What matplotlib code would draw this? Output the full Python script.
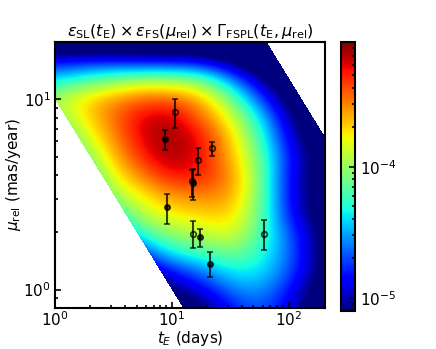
import numpy as np
import matplotlib
matplotlib.use("Agg")
from matplotlib import pyplot as plt
from matplotlib.colors import LogNorm
from matplotlib.cm import ScalarMappable

# rate map, log10 values read on a grid of log10(tE) x log10(mu_rel)
log_te_nodes = np.arange(0, 2.51, 0.25)
log_mu_nodes = np.round(np.arange(-0.1, 1.31, 0.1), 2)
log_rate = np.array([
    [-6.0, -6.0, -6.0, -5.8, -5.4, -5.2, -4.85, -4.65, -4.9, -5.3, -5.7],    # -0.1
    [-6.0, -6.0, -5.9, -5.5, -5.1, -4.9, -4.6, -4.5, -4.8, -5.2, -5.6],      # 0.0
    [-6.0, -5.9, -5.5, -5.1, -4.8, -4.6, -4.35, -4.35, -4.65, -5.1, -5.5],   # 0.1
    [-5.8, -5.5, -5.1, -4.7, -4.3, -4.2, -4.05, -4.25, -4.6, -5.1, -5.5],    # 0.2
    [-5.5, -5.1, -4.7, -4.2, -4.0, -3.9, -3.8, -4.15, -4.65, -5.1, -5.5],    # 0.3
    [-5.2, -4.8, -4.3, -3.9, -3.75, -3.7, -3.65, -4.1, -4.8, -5.2, -5.6],    # 0.4
    [-4.9, -4.5, -3.95, -3.75, -3.55, -3.5, -3.55, -4.05, -4.85, -5.2, -5.6],  # 0.5
    [-4.7, -4.3, -3.8, -3.5, -3.25, -3.3, -3.5, -4.05, -4.85, -5.2, -5.6],   # 0.6
    [-4.5, -4.1, -3.65, -3.3, -3.1, -3.25, -3.6, -4.1, -4.8, -5.2, -5.6],    # 0.7
    [-4.3, -3.9, -3.55, -3.2, -3.08, -3.25, -3.65, -4.2, -4.9, -5.3, -5.7],  # 0.8
    [-4.1, -3.75, -3.47, -3.2, -3.15, -3.45, -3.8, -4.35, -5.0, -5.4, -5.8], # 0.9
    [-3.95, -3.7, -3.55, -3.42, -3.42, -3.6, -4.05, -4.65, -5.2, -5.6, -6.0],  # 1.0
    [-4.35, -4.2, -4.05, -3.95, -3.95, -4.05, -4.5, -5.0, -5.4, -5.8, -6.0],   # 1.1
    [-4.85, -4.8, -4.8, -4.85, -4.85, -4.9, -5.1, -5.4, -5.7, -6.0, -6.0],     # 1.2
    [-5.5, -5.5, -5.5, -5.5, -5.5, -5.5, -5.6, -5.8, -6.0, -6.0, -6.0],        # 1.3
])
log_vmin, log_vmax = -5.1, -3.05

# model limits on theta_E, given as tE * mu_rel (days mas/yr)
tmu_min = 10
tmu_max = 1300

# events: tE, mu_rel, lower and upper mu_rel
te_full = [8.8, 15.2, 9.1, 17.6, 21.4]
mu_full = [6.15, 3.65, 2.7, 1.88, 1.37]
mu_full_lo = [5.4, 2.97, 2.22, 1.68, 1.17]
mu_full_hi = [6.9, 4.3, 3.16, 2.08, 1.57]

te_open = [10.6, 22.0, 16.9, 15.0, 15.1, 61.4]
mu_open = [8.6, 5.55, 4.77, 3.7, 1.97, 1.97]
mu_open_lo = [7.03, 5.06, 3.98, 3.05, 1.65, 1.62]
mu_open_hi = [10.0, 5.94, 5.53, 4.25, 2.28, 2.32]

xlim = (1, 205)
ylim = (0.8, 20)

plt.rcParams['font.size'] = 11
plt.rcParams['mathtext.fontset'] = 'dejavusans'

fig = plt.figure(figsize=(4.36, 3.49), dpi=100)
pos = [55 / 436, 41 / 349, 270 / 436, 266 / 349]

# the map lives on a linear axes in log10 units, under the log axes
ax_img = fig.add_axes(pos)
du = log_te_nodes[1] - log_te_nodes[0]
dv = log_mu_nodes[1] - log_mu_nodes[0]
ax_img.imshow(log_rate, origin='lower', cmap='jet', vmin=log_vmin, vmax=log_vmax,
              extent=[log_te_nodes[0] - du / 2, log_te_nodes[-1] + du / 2,
                      log_mu_nodes[0] - dv / 2, log_mu_nodes[-1] + dv / 2],
              interpolation='bicubic', interpolation_stage='data', aspect='auto')

lx = np.log10(xlim)
ly = np.log10(ylim)
nx, ny = 270, 266
uc = lx[0] + (np.arange(nx) + 0.5) * (lx[1] - lx[0]) / nx
vc = ly[0] + (np.arange(ny) + 0.5) * (ly[1] - ly[0]) / ny
w = uc[None, :] + vc[:, None]
outside = (w < np.log10(tmu_min)) | (w > np.log10(tmu_max))
mask = np.zeros((ny, nx, 4))
mask[outside] = (1, 1, 1, 1)
ax_img.imshow(mask, origin='lower', extent=[lx[0], lx[1], ly[0], ly[1]],
              interpolation='nearest', aspect='auto')
ax_img.set_xlim(*lx)
ax_img.set_ylim(*ly)
ax_img.axis('off')

ax = fig.add_axes(pos)
ax.set_zorder(ax_img.get_zorder() + 1)
ax.patch.set_visible(False)
ax.set_xscale('log')
ax.set_yscale('log')

ebar = dict(fmt='o', color='k', ms=4, capsize=2.5, elinewidth=1.5,
            capthick=1.2, alpha=0.75)
ax.errorbar(te_full, mu_full,
            yerr=[np.subtract(mu_full, mu_full_lo), np.subtract(mu_full_hi, mu_full)],
            **ebar)
ax.errorbar(te_open, mu_open,
            yerr=[np.subtract(mu_open, mu_open_lo), np.subtract(mu_open_hi, mu_open)],
            mfc='none', mew=1.2, **ebar)

ax.set_xlim(*xlim)
ax.set_ylim(*ylim)
ax.set_xlabel(r'$t_E$ (days)', fontsize=11, labelpad=0)
ax.set_ylabel(r'$\mu_{\rm rel}$ (mas/year)', fontsize=11, labelpad=0)
ax.set_title(r'$\varepsilon_{\rm SL}(t_{\rm E}) \times \varepsilon_{\rm FS}(\mu_{\rm rel})'
             r' \times \Gamma_{\rm FSPL}(t_{\rm E}, \mu_{\rm rel})$', fontsize=11.6, pad=4)
ax.tick_params(which='both', direction='in', top=False, right=False, width=1.2)
ax.tick_params(which='major', length=4.5, labelsize=11)
ax.tick_params(which='minor', length=2.5)
ax.tick_params(axis='x', which='major', pad=2)
ax.tick_params(axis='y', which='major', pad=3)
for s in ax.spines.values():
    s.set_linewidth(1.5)

cax = fig.add_axes([341 / 436, 38 / 349, 14 / 436, 269 / 349])
cb = fig.colorbar(ScalarMappable(norm=LogNorm(10 ** log_vmin, 10 ** log_vmax), cmap='jet'),
                  cax=cax)
cb.outline.set_linewidth(1.5)
cb.ax.minorticks_on()
cb.ax.tick_params(which='both', direction='in', width=1.2, labelsize=11)
cb.ax.tick_params(which='major', length=4)
cb.ax.tick_params(which='minor', length=2.5)

fig.savefig('out.png', dpi=100)
